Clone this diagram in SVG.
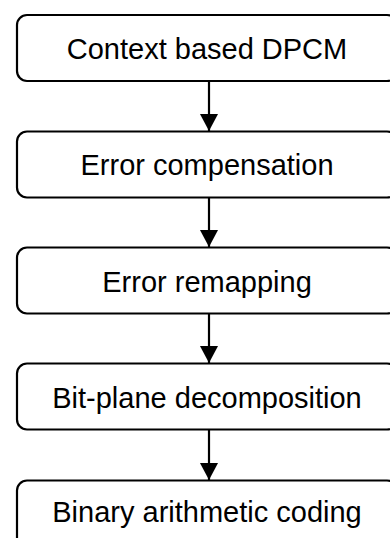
<svg xmlns="http://www.w3.org/2000/svg" width="390" height="538" viewBox="0 0 390 538">
<style>
.box{fill:#fff;stroke:#000;stroke-width:2.2}
.lbl{font-family:"Liberation Sans",Arial,sans-serif;font-size:29px;fill:#000;text-anchor:middle}
.conn{stroke:#000;stroke-width:2.2;fill:none}
</style>
<defs>
<marker id="ah" viewBox="0 0 17 18" refX="17" refY="9" markerWidth="17" markerHeight="18" markerUnits="userSpaceOnUse" orient="auto">
<path d="M0,0 L17,9 L0,18 Z" fill="#000"/>
</marker>
</defs>
<rect width="390" height="538" fill="#fff"/>
<g id="connectors">
<line class="conn" x1="209" y1="82" x2="209" y2="131" marker-end="url(#ah)"/>
<line class="conn" x1="209" y1="198" x2="209" y2="247" marker-end="url(#ah)"/>
<line class="conn" x1="209" y1="313" x2="209" y2="363" marker-end="url(#ah)"/>
<line class="conn" x1="209" y1="430" x2="209" y2="480" marker-end="url(#ah)"/>
</g>
<g id="n1">
<rect class="box" x="17" y="15" width="380" height="66" rx="10"/>
<text class="lbl" x="207" y="58.5">Context based DPCM</text>
</g>
<g id="n2">
<rect class="box" x="17" y="131.5" width="380" height="66" rx="10"/>
<text class="lbl" x="207" y="175">Error compensation</text>
</g>
<g id="n3">
<rect class="box" x="17" y="247.5" width="380" height="66" rx="10"/>
<text class="lbl" x="207" y="291.5">Error remapping</text>
</g>
<g id="n4">
<rect class="box" x="17" y="363.5" width="380" height="66" rx="10"/>
<text class="lbl" x="207" y="407.5">Bit-plane decomposition</text>
</g>
<g id="n5">
<rect class="box" x="17" y="480.5" width="380" height="80" rx="10"/>
<text class="lbl" x="207" y="522">Binary arithmetic coding</text>
</g>
</svg>
